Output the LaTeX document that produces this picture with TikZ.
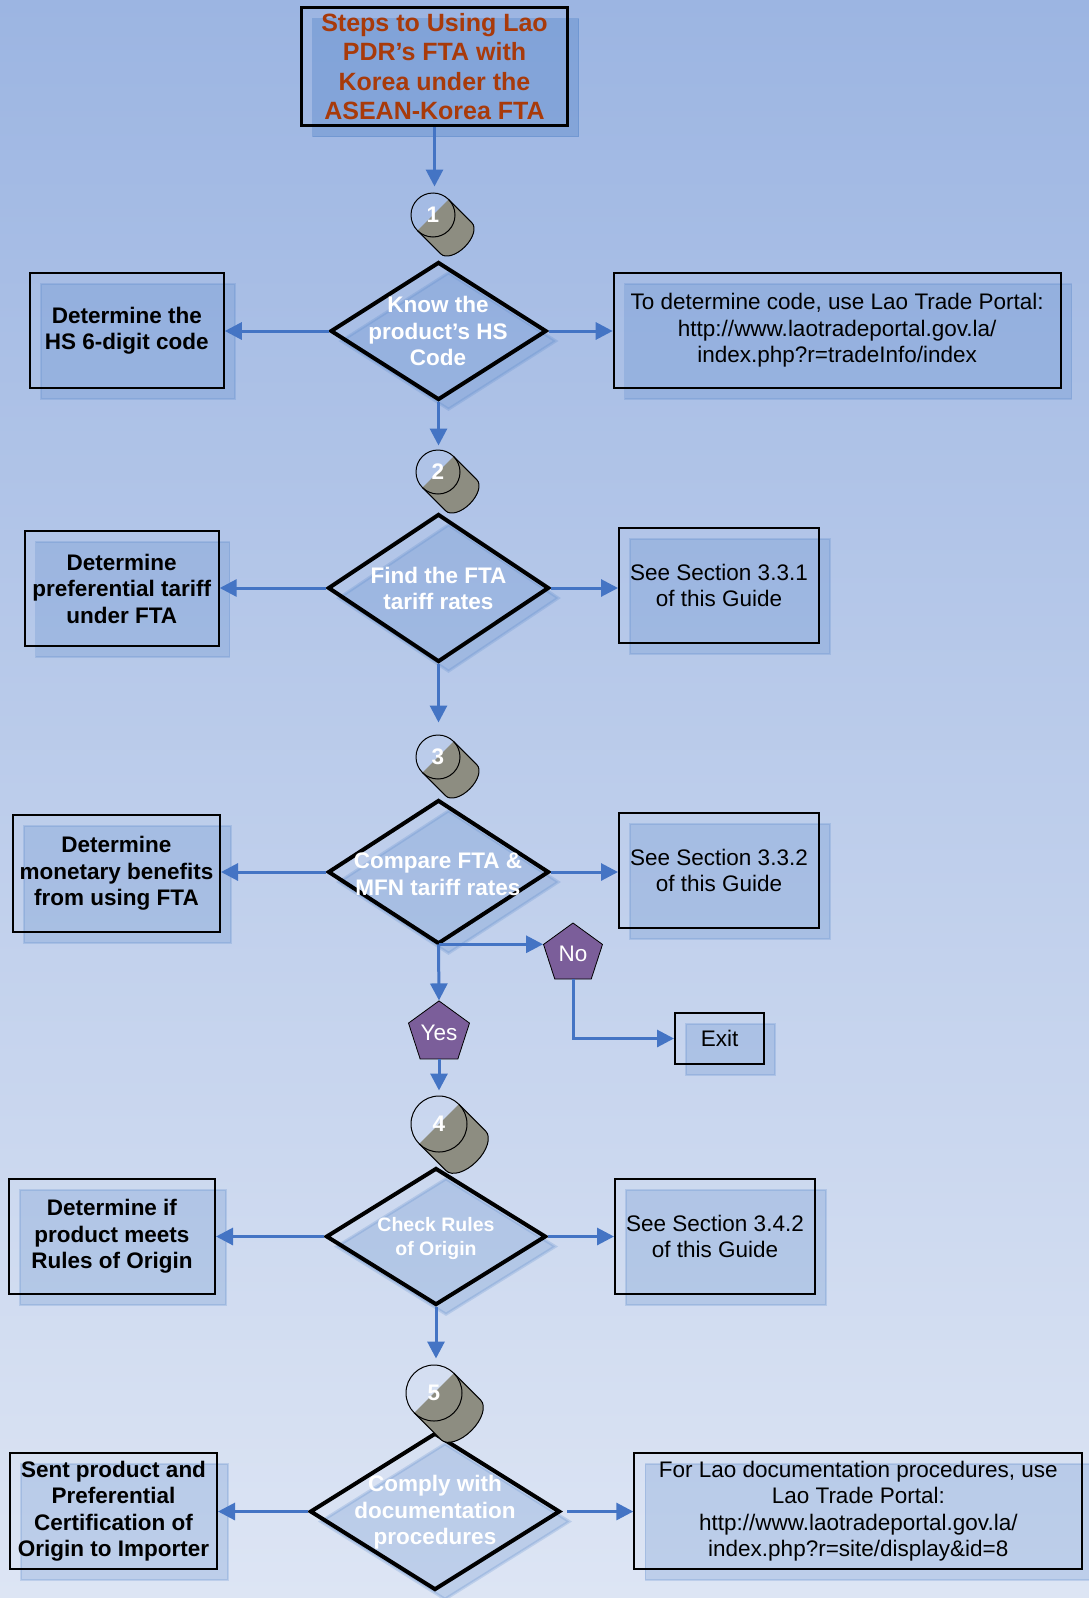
\documentclass[tikz,border=0pt]{standalone}
\usepackage{fontspec}
\setmainfont{Liberation Sans}
\usetikzlibrary{arrows.meta,shapes.geometric,shadows}
\definecolor{bgtop}{RGB}{156,181,226}
\definecolor{bgbot}{RGB}{221,229,244}
\definecolor{shblue}{RGB}{79,129,199}
\definecolor{arrblue}{RGB}{68,116,196}
\definecolor{titlered}{RGB}{168,58,10}
\definecolor{penta}{RGB}{123,94,154}
\definecolor{cylgray}{RGB}{141,141,129}
\newcommand\fsz{\fontsize{22.5pt}{26.5pt}\selectfont}
\newcommand\stepcyl[4]{%
  \begin{scope}[shift={(#1)}, rotate=-45]
    \filldraw[fill=cylgray, draw=black, line width=1pt] (0pt,#2) -- (#3,#2)
      arc[start angle=90, end angle=-90, x radius=#4, y radius=#2] -- (0pt,-#2);
  \end{scope}}
\begin{document}
\begin{tikzpicture}[x=1pt,y=-1pt,
  box/.style={draw=black, line width=2pt, inner sep=0pt, align=center, font=\fsz,
    drop shadow={shadow xshift=11pt, shadow yshift=-11pt, fill=shblue, draw=shblue, line width=1.5pt, opacity=0.22}},
  lbox/.style={box, font=\fsz\bfseries},
  titlebox/.style={draw=black, line width=3pt, inner sep=0pt, align=center, text=titlered,
    font=\fontsize{25pt}{29.5pt}\selectfont\bfseries,
    drop shadow={shadow xshift=11pt, shadow yshift=-11pt, fill=shblue, draw=shblue, line width=1.5pt, opacity=0.35}},
  dia/.style={shape=diamond, draw=black, line width=4pt, inner sep=0pt, line join=miter,
    drop shadow={shadow xshift=10pt, shadow yshift=-10pt, fill=shblue, draw=shblue, line width=3pt, opacity=0.22}},
  dtext/.style={text=white, font=\fsz\bfseries, align=center, inner sep=0pt},
  stepc/.style={circle, draw=black, line width=1pt, inner sep=0pt, text=white, font=\fsz\bfseries},
  pent/.style={regular polygon, regular polygon sides=5, minimum size=62pt, inner sep=0pt,
    fill=penta, draw=black, line width=0.8pt, text=white, font=\fsz},
  arr/.style={draw=arrblue, line width=3pt, -{Triangle[length=17pt,width=17pt]}}
]
\useasboundingbox (0,0) rectangle (1089,1598);
\shade[top color=bgtop, bottom color=bgbot] (0,0) rectangle (1089,1598);

% title
\node[titlebox, minimum width=266pt, minimum height=118pt] (title) at (434.5,66.5)
  {Steps to Using Lao\\PDR’s FTA with\\Korea under the\\ASEAN-Korea FTA};

% left boxes
\node[lbox, minimum width=194pt, minimum height=115pt] (b1l) at (126.8,330.5) {Determine the\\HS 6-digit code};
\node[lbox, minimum width=194pt, minimum height=115pt] (b2l) at (121.7,588.5) {Determine\\preferential tariff\\under FTA};
\node[lbox, minimum width=207pt, minimum height=117pt] (b3l) at (116.5,873.5) {Determine\\monetary benefits\\from using FTA};
\node[lbox, minimum width=206pt, minimum height=115pt] (b4l) at (112,1236.5) {Determine if\\product meets\\Rules of Origin};
\node[lbox, minimum width=207pt, minimum height=116pt] (b5l) at (113.5,1511) {Sent product and\\Preferential\\Certification of\\Origin to Importer};

% right boxes
\node[box, minimum width=447pt, minimum height=115pt] (b1r) at (837.2,330.5)
  {To determine code, use Lao Trade Portal:\\http://www.laotradeportal.gov.la/\\index.php?r=tradeInfo/index};
\node[box, minimum width=200pt, minimum height=115pt] (b2r) at (719,585.5) {See Section 3.3.1\\of this Guide};
\node[box, minimum width=200pt, minimum height=115pt] (b3r) at (719,870.5) {See Section 3.3.2\\of this Guide};
\node[box, minimum width=200pt, minimum height=115pt] (b4r) at (715,1236.5) {See Section 3.4.2\\of this Guide};
\node[box, minimum width=448pt, minimum height=116pt] (b5r) at (858.3,1511)
  {For Lao documentation procedures, use\\Lao Trade Portal:\\http://www.laotradeportal.gov.la/\\index.php?r=site/display\&id=8};
\node[box, minimum width=89pt, minimum height=51pt] (exit) at (719.5,1038.5) {Exit};

% diamonds
\node[dia, minimum width=216pt, minimum height=138pt] (d1) at (438.5,331) {};
\node[dia, minimum width=221pt, minimum height=148pt] (d2) at (438.5,588) {};
\node[dia, minimum width=221pt, minimum height=144pt] (d3) at (438.5,872) {};
\node[dia, minimum width=220pt, minimum height=137pt] (d4) at (436,1236.5) {};
\node[dia, minimum width=250pt, minimum height=157pt] (d5) at (435,1511.5) {};
\node[dtext] (t1) at (438,331) {Know the\\product’s HS\\Code};
\node[dtext] (t2) at (438.5,588.5) {Find the FTA\\tariff rates};
\node[dtext] (t3) at (438,874) {Compare FTA \&\\MFN tariff rates};
\node[dtext, font=\fontsize{19.5pt}{24.5pt}\selectfont\bfseries] (t4) at (436,1238.5) {Check Rules\\of Origin};
\node[dtext] (t5) at (435,1512.5) {Comply with\\documentation\\procedures};

% pentagons
\node[pent] (no) at (573,954) {No};
\node[pent] (yes) at (439,1033) {Yes};

% step markers
\coordinate (p1) at (433,215);
\coordinate (p2) at (438,472);
\coordinate (p3) at (438,757);
\coordinate (p4) at (439,1124);
\coordinate (p5) at (434,1393);
\stepcyl{p1}{22pt}{33pt}{12pt}
\node[stepc, minimum size=44pt] (c1) at (p1) {1};
\stepcyl{p2}{22pt}{33pt}{12pt}
\node[stepc, minimum size=44pt] (c2) at (p2) {2};
\stepcyl{p3}{22pt}{33pt}{12pt}
\node[stepc, minimum size=44pt] (c3) at (p3) {3};
\stepcyl{p4}{28pt}{38pt}{15pt}
\node[stepc, minimum size=56pt] (c4) at (p4) {4};
\stepcyl{p5}{28pt}{38pt}{15pt}
\node[stepc, minimum size=56pt] (c5) at (p5) {5};

% connectors
\draw[arr, shorten >=6pt] (title.south) -- (title.south |- c1.north);
\draw[arr, shorten >=4pt] (d1.south) -- (d1.south |- c2.north);
\draw[arr, shorten >=12pt] (d2.south) -- (d2.south |- c3.north);
\draw[arr, shorten >=5pt] (yes.south) -- (yes.south |- c4.north);
\draw[arr, shorten >=6pt] (d4.south) -- (d4.south |- c5.north);

\draw[arr] (d1.west) -- (d1.west -| b1l.east);
\draw[arr] (d1.east) -- (d1.east -| b1r.west);
\draw[arr] (d2.west) -- (d2.west -| b2l.east);
\draw[arr] (d2.east) -- (d2.east -| b2r.west);
\draw[arr] (d3.west) -- (d3.west -| b3l.east);
\draw[arr] (d3.east) -- (d3.east -| b3r.west);
\draw[arr] (d4.west) -- (d4.west -| b4l.east);
\draw[arr] (d4.east) -- (d4.east -| b4r.west);
\draw[arr] (d5.west) -- (d5.west -| b5l.east);
\draw[arr, shorten <=5pt] (d5.east) -- (d5.east -| b5r.west);

\coordinate (split) at (d3.south |- no.corner 2);
\draw[arr] (split) -- (no.corner 2);
\draw[arr] (split) -- (yes.north);
\draw[arr] (no.south) |- (exit.west);
\end{tikzpicture}
\end{document}
